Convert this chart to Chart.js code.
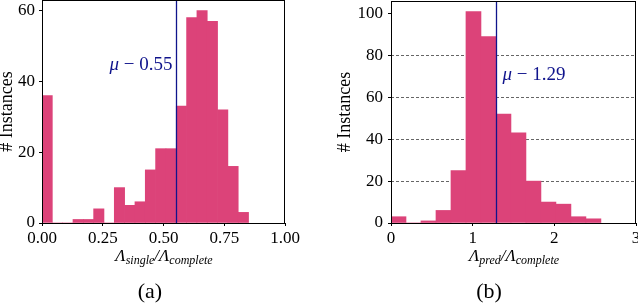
<!DOCTYPE html>
<html>
<head>
<meta charset="utf-8">
<script src="https://cdn.jsdelivr.net/npm/chart.js@4.4.1/dist/chart.umd.min.js"></script>
<style>
  body { margin: 0; width: 638px; height: 308px; overflow: hidden; background: #fff; position: relative; font-family: "Liberation Serif", "DejaVu Serif", serif; }
  canvas { position: absolute; top: 0; }
  .xl { position: absolute; width: 220px; text-align: center; font-style: italic; font-size: 17px; line-height: 20px; color: #000; }
  .xl sub { font-size: 12px; vertical-align: -3px; line-height: 0; }
  .cap { position: absolute; width: 60px; text-align: center; font-size: 22px; line-height: 26px; color: #000; }
</style>
</head>
<body>
<canvas id="chartA" width="320" height="308" style="left:0"></canvas>
<canvas id="chartB" width="318" height="308" style="left:320px"></canvas>
<div class="xl" style="left:54px; top:246px;">Λ<sub>single</sub>/Λ<sub>complete</sub></div>
<div class="xl" style="left:404px; top:246px;">Λ<sub>pred</sub>/Λ<sub>complete</sub></div>
<div class="cap" style="left:120px; top:278px;">(a)</div>
<div class="cap" style="left:459px; top:278px;">(b)</div>
<script>
// histogram (a): 20 bins over 0..0.85
const singleCounts = [36, 0, 0, 1, 1, 4, 0, 10, 5, 6, 15, 21, 21, 33, 58, 60, 57, 32, 16, 3];
const singleBinWidth = 0.0425;
const singleMean = 0.552;
const singleXTicks = [0, 0.25, 0.5, 0.75, 1];
const singleYTicks = [0, 20, 40, 60];

// histogram (b): 14 bins over 0..2.57
const predCounts = [3, 0, 1, 6, 25, 101, 89, 52, 43, 20, 10, 9, 3, 2];
const predBinWidth = 0.1836;
const predMean = 1.289;
const predXTicks = [0, 1, 2, 3];
const predYTicks = [0, 20, 40, 60, 80, 100];

const BAR = '#dc4379';
const NAVY = '#10148c';
const tickFont = { family: 'Liberation Serif', size: 17 };

function binPoints(counts, w) {
    return counts.map((c, i) => ({ x: (i + 0.5) * w, y: c }));
}

// frame + mean line + mean label
const decor = {
    id: 'decor',
    afterDatasetsDraw(chart, args, opts) {
        const { ctx, chartArea: a, scales } = chart;
        const mx = Math.round(scales.x.getPixelForValue(opts.mean)) + 0.5;
        ctx.save();
        ctx.strokeStyle = NAVY;
        ctx.lineWidth = 1.3;
        ctx.beginPath();
        ctx.moveTo(mx, a.top);
        ctx.lineTo(mx, a.bottom);
        ctx.stroke();

        ctx.fillStyle = NAVY;
        ctx.textBaseline = 'middle';
        const mu = 'μ';
        const rest = ' − ' + opts.mean.toFixed(2);
        ctx.font = 'italic 19px "Liberation Serif"';
        const w1 = ctx.measureText(mu).width;
        ctx.font = '19px "Liberation Serif"';
        const w2 = ctx.measureText(rest).width;
        let x0 = opts.side === 'left' ? mx - 4 - w1 - w2 : mx + 6;
        const y = a.top + opts.labelTop;
        ctx.font = 'italic 19px "Liberation Serif"';
        ctx.fillText(mu, x0, y);
        ctx.font = '19px "Liberation Serif"';
        ctx.fillText(rest, x0 + w1, y);

        ctx.strokeStyle = '#000';
        ctx.lineWidth = 1;
        const l = Math.round(a.left) + 0.5, t = Math.round(a.top) + 0.5;
        const r = Math.round(a.right) - 0.5, b = Math.round(a.bottom) + 0.5;
        ctx.strokeRect(l, t, r - l, b - t);
        ctx.restore();
    }
};

function makeChart(id, cfg) {
    return new Chart(document.getElementById(id), {
        type: 'bar',
        data: {
            datasets: [{
                data: binPoints(cfg.counts, cfg.binWidth),
                backgroundColor: BAR,
                borderWidth: 0,
                barPercentage: 1,
                categoryPercentage: 1
            }]
        },
        options: {
            responsive: false,
            animation: false,
            devicePixelRatio: 1,
            layout: { padding: cfg.padding },
            plugins: {
                legend: { display: false },
                tooltip: { enabled: false },
                decor: { mean: cfg.mean, side: cfg.side, labelTop: cfg.labelTop }
            },
            scales: {
                x: {
                    type: 'linear',
                    offset: false,
                    min: 0,
                    max: cfg.xMax,
                    afterBuildTicks: s => { s.ticks = cfg.xTicks.map(v => ({ value: v })); },
                    afterFit: s => { s.height = 30; s.paddingLeft = 0; s.paddingRight = 0; },
                    ticks: {
                        autoSkip: false,
                        maxRotation: 0,
                        padding: 2,
                        color: '#000',
                        font: tickFont,
                        callback: cfg.xFmt
                    },
                    grid: { offset: false, drawOnChartArea: false, tickLength: 3, tickColor: '#000' },
                    border: { display: false }
                },
                y: {
                    min: 0,
                    max: cfg.yMax,
                    afterBuildTicks: s => { s.ticks = cfg.yTicks.map(v => ({ value: v })); },
                    afterFit: s => { s.width = cfg.yWidth; s.paddingTop = 0; s.paddingBottom = 0; },
                    ticks: { padding: cfg.yPad, color: '#000', font: tickFont },
                    grid: {
                        drawOnChartArea: cfg.grid,
                        color: c => (c.tick && c.tick.value > 0 && c.tick.value < 100) ? '#666' : 'rgba(0,0,0,0)',
                        lineWidth: 1,
                        tickLength: 3,
                        tickColor: '#000'
                    },
                    border: { display: false, dash: [3, 2] },
                    title: {
                        display: true,
                        text: '# Instances',
                        color: '#000',
                        font: { family: 'Liberation Serif', size: 18, lineHeight: 0.8 },
                        padding: 0
                    }
                }
            }
        },
        plugins: [decor]
    });
}

makeChart('chartA', {
    counts: singleCounts, binWidth: singleBinWidth, mean: singleMean,
    xMax: 1, yMax: 63, xTicks: singleXTicks, yTicks: singleYTicks,
    xFmt: v => v.toFixed(2),
    padding: { left: 0, right: 35, top: 0, bottom: 55 },
    yWidth: 42, yPad: 4, grid: false, side: 'left', labelTop: 65
});

makeChart('chartB', {
    counts: predCounts, binWidth: predBinWidth, mean: predMean,
    xMax: 3, yMax: 106, xTicks: predXTicks, yTicks: predYTicks,
    xFmt: v => String(v),
    padding: { left: 18, right: 2, top: 1, bottom: 55 },
    yWidth: 53, yPad: 5, grid: true, side: 'right', labelTop: 74
});
</script>
</body>
</html>
